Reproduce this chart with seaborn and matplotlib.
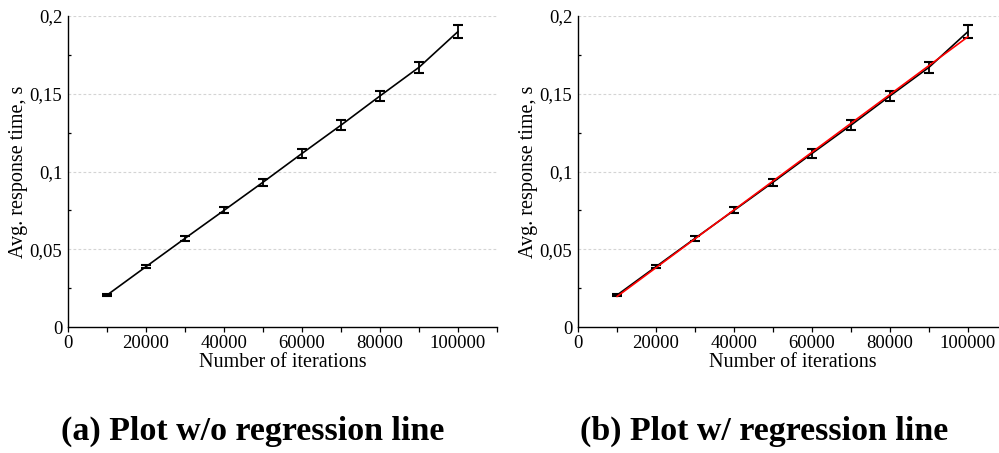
import numpy as np
import pandas as pd
import matplotlib
matplotlib.use("Agg")
import matplotlib.pyplot as plt
from matplotlib.ticker import FuncFormatter, MultipleLocator
import seaborn as sns

# ---- data ----
iterations = [10000, 20000, 30000, 40000, 50000, 60000, 70000, 80000, 90000, 100000]
resp_time = [0.0205, 0.0388, 0.0570, 0.0750, 0.0931, 0.1116, 0.1298, 0.1486, 0.1670, 0.1900]
resp_err = [0.0008, 0.0010, 0.0016, 0.0019, 0.0023, 0.0027, 0.0030, 0.0033, 0.0036, 0.0042]
y_ticks = [0, 0.05, 0.1, 0.15, 0.2]
x_ticks = [0, 20000, 40000, 60000, 80000, 100000]
captions = ["(a) Plot w/o regression line", "(b) Plot w/ regression line"]
x_label = "Number of iterations"
y_label = "Avg. response time, s"

df = pd.DataFrame({"it": iterations, "t": resp_time, "err": resp_err})

sns.set_style("ticks")
plt.rcParams["font.family"] = ["Liberation Serif", "DejaVu Serif"]
plt.rcParams["text.color"] = "black"
plt.rcParams["axes.labelcolor"] = "black"
plt.rcParams["xtick.color"] = "black"
plt.rcParams["ytick.color"] = "black"
plt.rcParams["xtick.labelcolor"] = "black"
plt.rcParams["ytick.labelcolor"] = "black"

fig = plt.figure(figsize=(9.99, 4.53), dpi=100)
positions = [[68 / 999, 1 - 327 / 453, 429 / 999, 311 / 453],
             [578 / 999, 1 - 327 / 453, 429 / 999, 311 / 453]]
caption_x = [253 / 999, 764 / 999]


def comma(v, pos):
    return ("%g" % v).replace(".", ",")


for i, pos in enumerate(positions):
    ax = fig.add_axes(pos)
    ax.set_xlim(0, 110000)
    ax.set_ylim(0, 0.2)
    for yv in y_ticks[1:]:
        ax.axhline(yv, color="#d4d4d4", lw=0.8, ls=(0, (2.5, 2.0)), zorder=0)
    sns.lineplot(data=df, x="it", y="t", color="black", lw=1.2, ax=ax, zorder=3)
    ax.errorbar(df["it"], df["t"], yerr=df["err"], fmt="none", ecolor="black",
                elinewidth=1.3, capsize=3.6, capthick=1.5, zorder=4)
    if i == 1:
        sns.regplot(data=df, x="it", y="t", scatter=False, ci=None, color="red",
                    line_kws={"lw": 1.2, "zorder": 5}, ax=ax)
    ax.set_xticks(x_ticks)
    ax.xaxis.set_minor_locator(MultipleLocator(10000))
    ax.set_yticks(y_ticks)
    ax.yaxis.set_minor_locator(MultipleLocator(0.025))
    ax.yaxis.set_major_formatter(FuncFormatter(comma))
    ax.tick_params(axis="x", which="both", direction="out", length=3.5, width=0.9,
                   labelsize=13.5, pad=2)
    ax.tick_params(axis="y", which="major", direction="in", length=0, labelsize=13.5,
                   pad=4)
    ax.tick_params(axis="y", which="minor", direction="in", length=2.5, width=0.9)
    sns.despine(ax=ax)
    for s in ["left", "bottom"]:
        ax.spines[s].set_linewidth(1.0)
        ax.spines[s].set_color("black")
    ax.set_xlabel(x_label, fontsize=14.5, labelpad=1)
    ax.set_ylabel(y_label, fontsize=14.5, labelpad=1)
    fig.text(caption_x[i], 1 - 440 / 453, captions[i], ha="center", va="baseline",
             fontsize=24.5, fontweight="bold")

fig.savefig("out.png", dpi=100)
